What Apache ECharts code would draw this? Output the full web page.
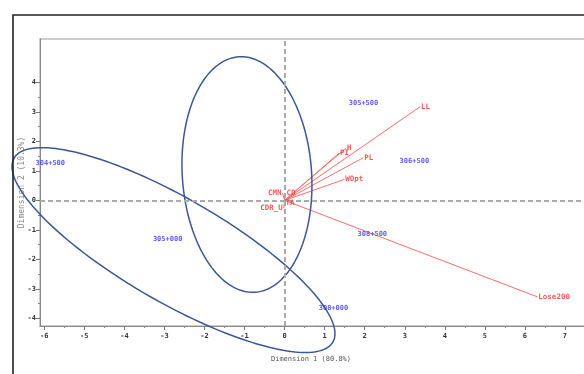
<!DOCTYPE html>
<html><head><meta charset="utf-8">
<script src="https://cdn.jsdelivr.net/npm/echarts@6/dist/echarts.min.js"></script>
<style>html,body{margin:0;padding:0;background:#fff}#c{width:584px;height:374px}</style>
</head><body><div id="c"></div>
<script>
// Row points (section labels) on the first two dimensions
const rowNames = ['304+500', '305+000', '305+500', '306+500', '308+000', '308+500'];
const rowDim1 = [-5.85, -2.92, 1.97, 3.24, 1.22, 2.19];
const rowDim2 = [1.27, -1.32, 3.31, 1.33, -3.67, -1.15];

// Column vectors (variables), drawn from the origin
const varNames = ['LL', 'Lose200', 'PL', 'PI', 'H', 'WOpt', 'CMN', 'CO', 'CDR_U', 'TA'];
const varDim1 = [3.38, 6.31, 1.965, 1.36, 1.53, 1.49, -0.05, 0.02, -0.02, 0.0];
const varDim2 = [3.17, -3.27, 1.444, 1.60, 1.77, 0.71, 0.24, 0.24, -0.27, -0.08];

// Confidence ellipses: centre and two conjugate semi-axes (data units)
const ellCenterX = [-0.94, -2.774];
const ellCenterY = [0.875, -1.685];
const ellAxisU = [[-0.205, 3.99], [3.979, -3.119]];
const ellAxisV = [[1.61, 0.153], [-0.649, -1.526]];

// Axis ticks
const xTickValues = [-6, -5, -4, -3, -2, -1, 0, 1, 2, 3, 4, 5, 6, 7];
const yTickValues = [-4, -3, -2, -1, 0, 1, 2, 3, 4];
const xTitle = 'Dimension 1 (80.8%)';
const yTitle = 'Dimension 2 (10.3%)';

const midpoints = v => v.slice(1).map((b, i) => (b + v[i]) / 2);
const MONO = 'DejaVu Sans Mono';
const X_MIN = -6.107, X_MAX = 7.75, Y_MIN = -4.26, Y_MAX = 5.47;

const chart = echarts.init(document.getElementById('c'), null, {renderer: 'canvas'});

const baseX = {
  type: 'value', min: X_MIN, max: X_MAX, position: 'bottom',
  splitLine: {show: false}
};
const baseY = {
  type: 'value', min: Y_MIN, max: Y_MAX, position: 'left',
  splitLine: {show: false}
};

const option = {
  animation: false,
  backgroundColor: '#fff',
  graphic: [{
    type: 'rect', left: 10.5, top: 12.5, z: 100,
    shape: {width: 700, height: 500},
    style: {fill: null, stroke: '#222', lineWidth: 1.6}
  }],
  grid: {left: 40, top: 39, right: -11, bottom: 48, show: true,
         outerBoundsMode: 'none', containLabel: false,
         borderColor: '#bdbdbd', borderWidth: 1.5, backgroundColor: 'transparent'},
  xAxis: [
    Object.assign({}, baseX, {
      name: xTitle, nameLocation: 'middle', nameGap: 30,
      nameTextStyle: {fontFamily: MONO, fontSize: 7, color: '#555', padding: [0, 13, 0, 0]},
      axisLine: {show: true, onZero: false, lineStyle: {color: '#888', width: 1}},
      axisTick: {show: true, length: 4, customValues: xTickValues, lineStyle: {color: '#777'}},
      axisLabel: {customValues: xTickValues, margin: 7, fontFamily: MONO, fontWeight: 'bold',
                  fontSize: 7, color: '#333'}
    }),
    Object.assign({}, baseX, {
      axisLine: {show: false, onZero: false},
      axisTick: {show: true, length: 2, customValues: midpoints(xTickValues), lineStyle: {color: '#888'}},
      axisLabel: {show: false}
    })
  ],
  yAxis: [
    Object.assign({}, baseY, {
      name: yTitle, nameLocation: 'middle', nameGap: 14, nameMoveOverlap: false,
      nameTextStyle: {fontFamily: MONO, fontSize: 8, color: '#888'},
      axisLine: {show: true, onZero: false, lineStyle: {color: '#888', width: 1}},
      axisTick: {show: true, length: 4, customValues: yTickValues, lineStyle: {color: '#777'}},
      axisLabel: {customValues: yTickValues, margin: 4, fontFamily: MONO, fontWeight: 'bold',
                  fontSize: 7, color: '#333'}
    }),
    Object.assign({}, baseY, {
      axisLine: {show: false, onZero: false},
      axisTick: {show: true, length: 2, customValues: midpoints(yTickValues), lineStyle: {color: '#888'}},
      axisLabel: {show: false}
    })
  ],
  series: [
    // dashed reference lines through the origin
    {
      type: 'line', data: [], xAxisIndex: 0, yAxisIndex: 0, z: 1,
      markLine: {
        silent: true, symbol: ['none', 'none'], label: {show: false},
        lineStyle: {color: '#aaaaaa', width: 2, type: [5, 3]},
        data: [{xAxis: 0}, {yAxis: 0}]
      }
    },
    // variable vectors
    {
      type: 'lines', coordinateSystem: 'cartesian2d', z: 3,
      lineStyle: {color: '#ff6c6c', width: 1, opacity: 1},
      data: varNames.map((n, i) => ({coords: [[0, 0], [varDim1[i], varDim2[i]]]}))
    },
    // variable labels at the arrow tips
    {
      type: 'scatter', symbolSize: 0, z: 5,
      data: varNames.map((n, i) => ({
        value: [varDim1[i], varDim2[i]], name: n,
        label: {position: varDim1[i] < 0 ? 'left' : 'right', distance: 1}
      })),
      label: {show: true, formatter: p => p.name, fontFamily: MONO, fontWeight: 'bold',
              fontSize: 7.5, color: '#ff2a2a'}
    },
    // row labels
    {
      type: 'scatter', symbolSize: 0, z: 5,
      data: rowNames.map((n, i) => ({value: [rowDim1[i], rowDim2[i]], name: n})),
      label: {show: true, position: 'inside', formatter: p => p.name, fontFamily: MONO,
              fontWeight: 'bold', fontSize: 7, color: '#3030ff'}
    },
    // confidence ellipses
    {
      type: 'custom', clip: false, z: 4,
      data: ellCenterX.map((x, i) => [x, ellCenterY[i], i]),
      encode: {x: 0, y: 1},
      renderItem: (params, api) => {
        const i = params.dataIndex;
        const cx = ellCenterX[i], cy = ellCenterY[i];
        const U = ellAxisU[i], V = ellAxisV[i];
        const pts = [];
        for (let k = 0; k <= 180; k++) {
          const t = k / 180 * 2 * Math.PI;
          const c = Math.cos(t), s = Math.sin(t);
          pts.push(api.coord([cx + U[0] * c + V[0] * s, cy + U[1] * c + V[1] * s]));
        }
        return {type: 'polyline', shape: {points: pts},
                style: {stroke: '#3a5894', fill: null, lineWidth: 1.5}};
      }
    }
  ]
};
chart.setOption(option);
</script>
</body></html>
